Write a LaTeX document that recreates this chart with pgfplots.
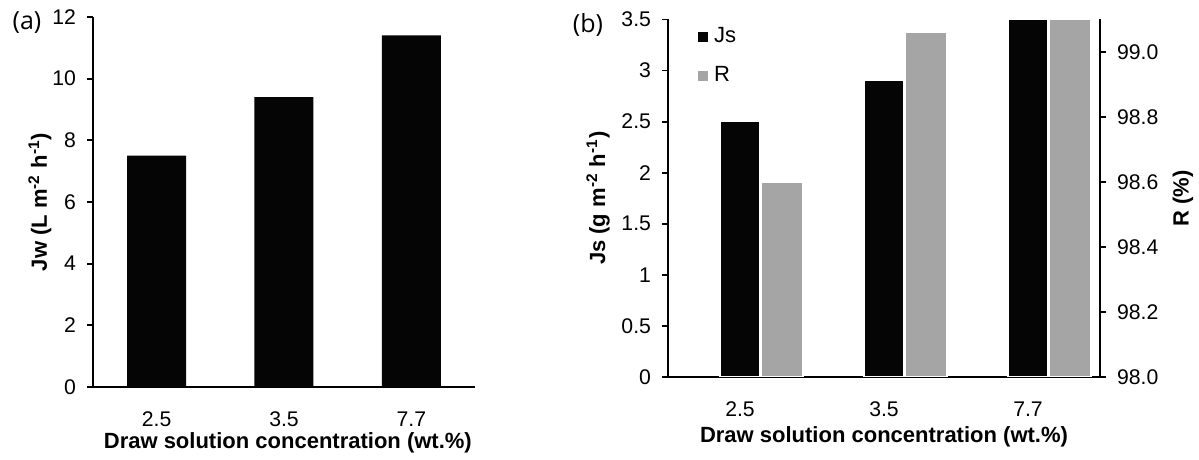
\documentclass[border=0pt]{standalone}
\usepackage{pgfplots}
\pgfplotsset{compat=1.18}
\usepackage{fontspec}
\setmainfont{Liberation Sans}
\newfontfamily\osans{Open Sans}
\definecolor{barblack}{HTML}{050505}
\definecolor{bargray}{HTML}{A5A5A5}
\newcommand\labfont{\fontsize{11}{13}\selectfont\bfseries}
\begin{document}
\begin{tikzpicture}
\useasboundingbox (0,0) rectangle (599.5pt,230pt);
\pgfplotsset{
  base/.style={
    scale only axis,
    anchor=south west,
    /pgf/number format/assume math mode=true,
    tick label style={font=\fontsize{10.6}{12}\selectfont},
    axis line style={line width=0.9pt,black},
    tick style={line width=0.9pt,black},
    tick align=outside,
    major tick length=3pt,
    xtick=data,
    xticklabels={2.5,3.5,7.7},
    xmin=-0.5,xmax=2.5,
    x tick style={draw=none},
    xticklabel style={anchor=center,yshift=-13pt},
    clip=true,
  },
}
% ---------- panel (a)
\begin{axis}[base,
  at={(46.5pt,36.5pt)},
  width=191pt,height=185pt,
  axis x line*=bottom, axis y line*=left,
  ymin=0,ymax=12,ytick={0,2,...,12},
  ybar, bar width=29.5pt,
  yticklabel style={xshift=-2pt},
  xlabel={Draw solution concentration (wt.\%)},
  ylabel={Jw (L m\textsuperscript{-2} h\textsuperscript{-1})},
  every axis x label/.style={at={(axis description cs:0.51,-0.151)},anchor=center,font=\labfont},
  every axis y label/.style={at={(axis description cs:-0.139,0.5)},anchor=center,rotate=90,font=\labfont},
]
\addplot[fill=barblack,draw=none] coordinates {(0,7.5) (1,9.4) (2,11.4)};
\end{axis}
% ---------- panel (b) left axis
\begin{axis}[base,
  at={(334pt,41.5pt)},
  width=216pt,height=178.75pt,
  axis x line*=bottom, axis y line*=left,
  ymin=0,ymax=3.5,ytick={0,0.5,...,3.5},
  yticklabel style={xshift=-2pt},
  ybar, bar width=20pt, bar shift=0pt,
  xlabel={Draw solution concentration (wt.\%)},
  ylabel={Js (g m\textsuperscript{-2} h\textsuperscript{-1})},
  every axis x label/.style={at={(axis description cs:0.5,-0.168)},anchor=center,font=\labfont},
  every axis y label/.style={at={(axis description cs:-0.162,0.5)},anchor=center,rotate=90,font=\labfont},
  legend style={at={(axis description cs:0.069,0.99)},anchor=north west,draw=none,fill=none,
    font=\fontsize{11}{12}\selectfont,row sep=6.5pt,inner sep=0pt,
    nodes={inner xsep=3pt}},
  legend cell align=left,
  legend image code/.code={\fill[#1,draw=none] (0pt,-2.5pt) rectangle (5pt,2.5pt);},
]
\addplot[fill=barblack,draw=white,line width=0.6pt] coordinates {(0,2.5) (1,2.9) (2,3.5)};
\addlegendentry{Js}
\addlegendimage{fill=bargray}
\addlegendentry{R}
\end{axis}
% ---------- panel (b) right axis
\begin{axis}[base,
  at={(334pt,41.5pt)},
  width=216pt,height=178.75pt,
  axis x line=none, axis y line*=right,
  xticklabels={},
  ymin=98,ymax=99.1,ytick={98,98.2,98.4,98.6,98.8,99.0},
  yticklabel style={xshift=2pt,/pgf/number format/fixed,/pgf/number format/fixed zerofill,/pgf/number format/precision=1},
  ybar, bar width=21pt, bar shift=21pt,
  ylabel={R (\%)},
  every axis y label/.style={at={(axis description cs:1.192,0.5)},anchor=center,rotate=90,font=\labfont},
]
\addplot[fill=bargray,draw=white,line width=0.6pt] coordinates {(0,98.6) (1,99.06) (2,99.1)};
\end{axis}
\node[font=\osans\fontsize{12.5}{14}\selectfont,anchor=center] at (13.5pt,218.5pt) {(a)};
\node[font=\osans\fontsize{12.5}{14}\selectfont,anchor=center] at (294pt,217.5pt) {(b)};
\end{tikzpicture}
\end{document}
